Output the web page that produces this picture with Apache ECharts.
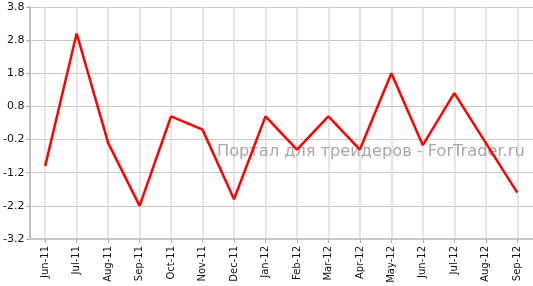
<!DOCTYPE html>
<html>
<head>
<meta charset="utf-8">
<script src="https://cdn.jsdelivr.net/npm/echarts@6/dist/echarts.min.js"></script>
<style>html,body{margin:0;padding:0;background:#fff;}#c{width:533px;height:286px;}</style>
</head>
<body>
<div id="c"></div>
<script>
var categories = ['Jun-11','Jul-11','Aug-11','Sep-11','Oct-11','Nov-11','Dec-11','Jan-12','Feb-12','Mar-12','Apr-12','May-12','Jun-12','Jul-12','Aug-12','Sep-12'];
var values = [-1.0, 3.0, -0.3, -2.2, 0.5, 0.1, -2.0, 0.5, -0.5, 0.5, -0.5, 1.8, -0.37, 1.2, -0.3, -1.8];
var yMin = -3.2, yMax = 3.8, yStep = 1;
var watermark = 'Портал для трейдеров - ForTrader.ru';

var chart = echarts.init(document.getElementById('c'), null, {renderer: 'canvas'});
chart.setOption({
  animation: false,
  backgroundColor: '#fff',
  grid: {left: 27, right: 0, top: 7, bottom: 47, containLabel: false},
  xAxis: {
    type: 'category',
    data: categories,
    boundaryGap: true,
    axisLine: {show: true, onZero: false, lineStyle: {color: '#c8c8c8', width: 2}},
    axisTick: {show: true, alignWithLabel: true, length: 4, lineStyle: {color: '#b0b0b0'}},
    axisLabel: {rotate: 90, interval: 0, color: '#111', fontFamily: 'DejaVu Sans', fontSize: 10, margin: 7},
    splitLine: {show: true, alignWithLabel: true, lineStyle: {color: '#dcdcdc', width: 1.5}}
  },
  yAxis: {
    type: 'value',
    min: yMin, max: yMax, interval: yStep,
    axisLine: {show: true, onZero: false, lineStyle: {color: '#c0c0c0', width: 2}},
    axisTick: {show: true, length: 3, lineStyle: {color: '#a0a0a0'}},
    axisLabel: {color: '#111', fontFamily: 'DejaVu Sans', fontSize: 11, margin: 5,
      formatter: function (v) { return (Math.round(v * 10) / 10).toFixed(1); }},
    splitLine: {show: true, lineStyle: {color: '#c8c8c8', width: 1}}
  },
  graphic: [{
    type: 'text', left: 217, top: 144, silent: true, z: 1,
    style: {text: watermark, fill: '#b0a4a4', font: '16.2px "DejaVu Sans"'}
  }],
  series: [{
    type: 'line',
    data: values,
    showSymbol: false,
    symbol: 'none',
    lineStyle: {color: '#ff0000', width: 2.5},
    z: 5
  }]
});
</script>
</body>
</html>
